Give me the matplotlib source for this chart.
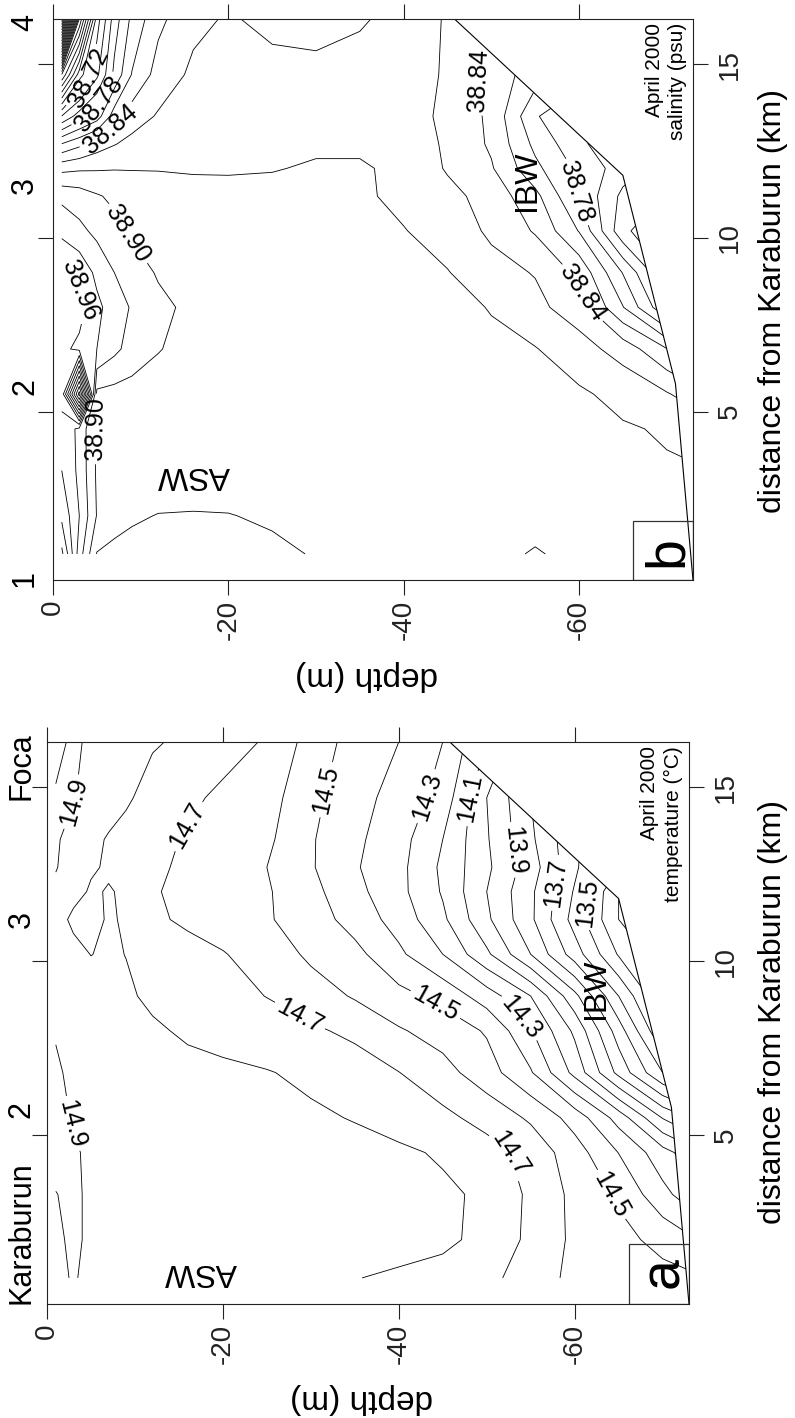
import numpy as np
import matplotlib
matplotlib.use("Agg")
import matplotlib.pyplot as plt
from matplotlib.patches import Polygon, Rectangle
from matplotlib.transforms import blended_transform_factory

plt.rcParams['font.family'] = ['Liberation Sans', 'DejaVu Sans']
plt.rcParams['axes.unicode_minus'] = False

# ---------------- data ----------------
# grid: distance from Karaburun (km) x depth (m)
DIST_KM = [0.9, 2.0, 3.3, 4.5, 5.5, 6.8, 8.0, 9.0, 10.2, 11.2, 12.0, 12.7, 13.5, 14.7, 16.3]
DEPTH_M = [-1, -3, -5, -7, -9, -12, -16, -20, -25, -30, -35, -40, -45, -50, -55, -60, -65, -70, -73]

# temperature (deg C), one profile per distance
TEMP = [
    [14.87, 14.91, 14.87, 14.86, 14.855, 14.85, 14.845, 14.84, 14.83, 14.815, 14.802, 14.79, 14.775, 14.74, 14.63, 14.585, 14.56, 14.53, 14.52],
    [14.88, 14.92, 14.88, 14.87, 14.865, 14.86, 14.855, 14.85, 14.845, 14.84, 14.83, 14.825, 14.815, 14.78, 14.675, 14.58, 14.53, 14.47, 14.42],
    [14.898, 14.915, 14.885, 14.875, 14.87, 14.865, 14.86, 14.855, 14.85, 14.845, 14.835, 14.825, 14.815, 14.785, 14.68, 14.575, 14.485, 14.33, 14.25],
    [14.925, 14.91, 14.885, 14.875, 14.87, 14.865, 14.86, 14.855, 14.85, 14.84, 14.83, 14.815, 14.79, 14.74, 14.665, 14.545, 14.398, 14.24, 14.15],
    [14.92, 14.895, 14.88, 14.87, 14.865, 14.855, 14.85, 14.84, 14.83, 14.815, 14.795, 14.765, 14.725, 14.665, 14.585, 14.46, 14.26, 13.995, 13.9],
    [14.91, 14.885, 14.875, 14.865, 14.855, 14.845, 14.83, 14.82, 14.805, 14.78, 14.745, 14.702, 14.635, 14.545, 14.41, 14.17, 13.87, 13.6, 13.5],
    [14.895, 14.88, 14.865, 14.85, 14.84, 14.815, 14.785, 14.765, 14.74, 14.715, 14.68, 14.61, 14.56, 14.49, 14.31, 14.08, 13.75, 13.4, 13.3],
    [14.88, 14.86, 14.85, 14.835, 14.815, 14.78, 14.75, 14.73, 14.698, 14.65, 14.59, 14.53, 14.47, 14.35, 14.2, 13.93, 13.6, 13.3, 13.2],
    [14.86, 14.83, 14.798, 14.815, 14.798, 14.77, 14.74, 14.705, 14.66, 14.58, 14.53, 14.42, 14.30, 14.12, 13.9, 13.65, 13.39, 13.25, 13.2],
    [14.84, 14.78, 14.77, 14.81, 14.79, 14.72, 14.68, 14.66, 14.61, 14.55, 14.46, 14.36, 14.22, 14.02, 13.82, 13.56, 13.3, 13.2, 13.15],
    [14.88, 14.83, 14.79, 14.805, 14.79, 14.71, 14.67, 14.64, 14.61, 14.53, 14.43, 14.33, 14.19, 14.00, 13.82, 13.59, 13.3, 13.2, 13.15],
    [14.905, 14.86, 14.81, 14.79, 14.775, 14.72, 14.68, 14.65, 14.60, 14.51, 14.41, 14.33, 14.18, 14.02, 13.85, 13.62, 13.4, 13.3, 13.2],
    [14.91, 14.87, 14.83, 14.79, 14.765, 14.73, 14.69, 14.66, 14.62, 14.51, 14.42, 14.34, 14.20, 14.01, 13.82, 13.62, 13.45, 13.3, 13.2],
    [14.91, 14.905, 14.87, 14.85, 14.815, 14.76, 14.72, 14.68, 14.64, 14.53, 14.43, 14.37, 14.26, 14.0, 13.8, 13.6, 13.4, 13.3, 13.2],
    [14.87, 14.92, 14.88, 14.86, 14.84, 14.81, 14.78, 14.74, 14.69, 14.56, 14.46, 14.40, 14.30, 14.10, 13.9, 13.7, 13.5, 13.3, 13.2],
]

# salinity (psu), one profile per distance
SAL = [
    [39.005, 38.93, 38.879, 38.876, 38.875, 38.874, 38.874, 38.875, 38.877, 38.881, 38.884, 38.886, 38.888, 38.89, 38.903, 38.89, 38.887, 38.886, 38.886],
    [38.975, 38.94, 38.899, 38.886, 38.882, 38.8795, 38.879, 38.8795, 38.882, 38.884, 38.885, 38.886, 38.886, 38.886, 38.887, 38.886, 38.886, 38.885, 38.885],
    [38.96, 38.935, 38.897, 38.892, 38.89, 38.889, 38.889, 38.888, 38.888, 38.887, 38.887, 38.887, 38.886, 38.886, 38.886, 38.885, 38.884, 38.882, 38.881],
    [38.955, 38.935, 38.896, 38.893, 38.891, 38.89, 38.889, 38.889, 38.888, 38.888, 38.887, 38.887, 38.886, 38.886, 38.885, 38.884, 38.882, 38.878, 38.876],
    [38.965, 39.13, 38.895, 38.893, 38.892, 38.891, 38.89, 38.889, 38.889, 38.889, 38.888, 38.888, 38.887, 38.886, 38.885, 38.883, 38.874, 38.862, 38.85],
    [38.965, 38.955, 38.94, 38.925, 38.912, 38.901, 38.893, 38.891, 38.89, 38.889, 38.888, 38.887, 38.886, 38.884, 38.881, 38.868, 38.852, 38.821, 38.801],
    [38.975, 38.968, 38.945, 38.93, 38.918, 38.905, 38.895, 38.892, 38.891, 38.89, 38.889, 38.888, 38.886, 38.879, 38.865, 38.85, 38.801, 38.741, 38.721],
    [38.962, 38.955, 38.935, 38.92, 38.91, 38.898, 38.893, 38.891, 38.89, 38.889, 38.888, 38.886, 38.881, 38.866, 38.859, 38.835, 38.779, 38.718, 38.70],
    [38.935, 38.925, 38.915, 38.906, 38.897, 38.892, 38.89, 38.888, 38.887, 38.887, 38.885, 38.881, 38.87, 38.857, 38.838, 38.799, 38.725, 38.698, 38.698],
    [38.915, 38.91, 38.902, 38.896, 38.892, 38.889, 38.887, 38.886, 38.886, 38.886, 38.884, 38.874, 38.866, 38.852, 38.826, 38.778, 38.735, 38.718, 38.71],
    [38.874, 38.877, 38.878, 38.879, 38.879, 38.879, 38.878, 38.878, 38.879, 38.882, 38.882, 38.876, 38.858, 38.842, 38.805, 38.775, 38.75, 38.73, 38.719],
    [38.821, 38.835, 38.85, 38.859, 38.866, 38.872, 38.874, 38.875, 38.876, 38.877, 38.877, 38.872, 38.857, 38.837, 38.795, 38.765, 38.741, 38.719, 38.71],
    [38.741, 38.77, 38.79, 38.83, 38.85, 38.862, 38.868, 38.87, 38.87, 38.87, 38.872, 38.87, 38.855, 38.836, 38.782, 38.761, 38.739, 38.719, 38.71],
    [38.601, 38.69, 38.735, 38.785, 38.821, 38.848, 38.864, 38.867, 38.866, 38.866, 38.867, 38.868, 38.858, 38.832, 38.81, 38.79, 38.77, 38.75, 38.739],
    [38.201, 38.561, 38.71, 38.77, 38.805, 38.835, 38.855, 38.862, 38.855, 38.852, 38.858, 38.866, 38.859, 38.841, 38.821, 38.801, 38.781, 38.761, 38.75],
]

# sea floor along the section
SEAFLOOR_DIST = [0.15, 5.8, 11.8, 16.3]
SEAFLOOR_DEPTH = [-73.0, -71.0, -65.0, -45.8]

DEPTH_TICKS = [0, -20, -40, -60]
DEPTH_TICKLABELS = ['0', '-20', '-40', '-60']
DIST_TICKS = [5, 10, 15]
DIST_TICKLABELS = ['5', '10', '15']

STATIONS_A = ['Karaburun', '2', '3', 'Foca']
STATIONS_B = ['1', '2', '3', '4']

TEMP_LEVELS = np.round(np.arange(132, 150) / 10.0, 1)
TEMP_LABELS = [13.5, 13.7, 13.9, 14.1, 14.3, 14.5, 14.7, 14.9]
SAL_LEVELS = np.round(np.arange(3822, 3940, 2) / 100.0, 2)
SAL_LABELS = [38.72, 38.78, 38.84, 38.90, 38.96]

# ---------------- figure ----------------
W, H = 795, 1418
fig = plt.figure(figsize=(W / 100, H / 100), dpi=100)
axa = fig.add_axes([47 / W, 1 - 1304 / H, 642 / W, 562 / H])
axb = fig.add_axes([53 / W, 1 - 580 / H, 640 / W, 561 / H])

XMIN, XMAX = 0, -73
YMIN, YMAX = 0.15, 16.3


def style_axes(ax):
    ax.set_xlim(XMIN, XMAX)
    ax.set_ylim(YMIN, YMAX)
    ax.set_xticks(DEPTH_TICKS)
    ax.set_xticklabels(DEPTH_TICKLABELS)
    ax.set_yticks(DIST_TICKS)
    ax.set_yticklabels(DIST_TICKLABELS)
    ax.tick_params(axis='both', direction='out', length=11, width=0.8,
                   top=True, bottom=True, left=True, right=True,
                   labelleft=False, labelright=True, labeltop=False,
                   labelbottom=True, labelsize=20, colors='#222222')
    ax.tick_params(axis='x', labelrotation=90, pad=3)
    ax.tick_params(axis='y', labelrotation=90, pad=6)
    for lab in ax.get_yticklabels():
        lab.set_verticalalignment('center')
    for sp in ax.spines.values():
        sp.set_linewidth(0.8)
        sp.set_color('#222222')


def draw_panel(ax, field, levels, label_levels, fmt, label_pos):
    verts = [(0, 0.9), (0, YMAX)] + [(z, d) for z, d in zip(SEAFLOOR_DEPTH[::-1], SEAFLOOR_DIST[::-1])]
    clip = Polygon(verts, closed=True, transform=ax.transData)
    arr = np.array(field)
    is_lab = np.array([np.any(np.isclose(lv, label_levels)) for lv in levels])
    cs_plain = ax.contour(DEPTH_M, DIST_KM, arr, levels=levels[~is_lab],
                          colors='k', linewidths=0.6)
    cs_plain.set_clip_path(clip)
    cs_lab = ax.contour(DEPTH_M, DIST_KM, arr, levels=levels[is_lab],
                        colors='k', linewidths=0.6)
    cs_lab.set_clip_path(clip)
    ax.clabel(cs_lab, manual=label_pos, fmt=fmt, fontsize=18,
              inline=True, inline_spacing=4)
    ax.plot(SEAFLOOR_DEPTH, SEAFLOOR_DIST, color='k', lw=0.8)


style_axes(axa)
style_axes(axb)

T_LABEL_POS = [(-2.8, 14.6), (-15.9, 13.9), (-31.4, 14.95), (-43.7, 14.7), (-47.7, 14.7),
               (-53.2, 13.2), (-58.1, 12.24), (-60.8, 11.7), (-28.8, 8.45), (-44.1, 8.72),
               (-54.7, 8.58), (-2.8, 5.33), (-53.2, 4.5), (-64.2, 3.3)]
S_LABEL_POS = [(-4.6, 14.5), (-5.7, 13.8), (-6.9, 13.0), (-8.4, 10.1), (-3.1, 8.5),
               (-4.2, 4.5), (-47.2, 14.5), (-60.5, 11.36), (-61.1, 8.48)]

draw_panel(axa, TEMP, TEMP_LEVELS, TEMP_LABELS, '%.1f', T_LABEL_POS)
draw_panel(axb, SAL, SAL_LEVELS, SAL_LABELS, '%.2f', S_LABEL_POS)

for ax, yc, xlc, xr in ((axa, 0.52, -0.1406, 1.1075), (axb, 0.497, -0.1426, 1.1016)):
    ax.set_xlabel('depth (m)', fontsize=24, rotation=180)
    ax.xaxis.set_label_coords(0.49, xlc)
    ax.xaxis.label.set_verticalalignment('top')
    ax.yaxis.set_label_position('right')
    ax.set_ylabel('distance from Karaburun (km)', fontsize=23, rotation=90)
    ax.yaxis.set_label_coords(xr, yc)

# station names
ta = blended_transform_factory(axa.transAxes, axa.transData)
axa.text(-0.0156, 0.15, STATIONS_A[0], transform=ta, rotation=90, fontsize=22, ha='right', va='bottom')
axa.text(-0.0156, 5.74, STATIONS_A[1], transform=ta, rotation=90, fontsize=22, ha='right', va='center')
axa.text(-0.0156, 11.2, STATIONS_A[2], transform=ta, rotation=90, fontsize=22, ha='right', va='center')
axa.text(-0.0156, 15.6, STATIONS_A[3], transform=ta, rotation=90, fontsize=22, ha='right', va='center')
tb = blended_transform_factory(axb.transAxes, axb.transData)
for name, d in zip(STATIONS_B, [0.2, 5.72, 11.5, 16.2]):
    axb.text(-0.0203, d, name, transform=tb, rotation=90, fontsize=22, ha='right', va='center')

# annotations
axa.text(0.9907, 0.993, 'April 2000\ntemperature (°C)', transform=axa.transAxes, rotation=90,
         fontsize=15, ha='right', va='top', multialignment='right', linespacing=1.3)
axb.text(0.9907, 0.993, 'April 2000\nsalinity (psu)', transform=axb.transAxes, rotation=90,
         fontsize=15, ha='right', va='top', multialignment='right', linespacing=1.3)

axa.text(-17.4, 1.06, 'ASW', rotation=180, fontsize=23, ha='center', va='center')
axb.text(-16.0, 3.16, 'ASW', rotation=180, fontsize=23, ha='center', va='center')
axa.text(-62.4, 9.2, 'IBW', rotation=90, fontsize=23, ha='center', va='center')
axb.text(-54.1, 11.65, 'IBW', rotation=90, fontsize=23, ha='center', va='center')

for ax, letter, d in ((axa, 'a', 1.06), (axb, 'b', 0.97)):
    ax.add_patch(Rectangle((-73, 0.15), 6.8, 1.71, fill=False, lw=0.9, ec='#333333', zorder=5))
    ax.text(-71.75, d, letter, rotation=90, fontsize=40, ha='center', va='baseline',
            rotation_mode='anchor', zorder=6)

fig.savefig('out.png', dpi=100)
